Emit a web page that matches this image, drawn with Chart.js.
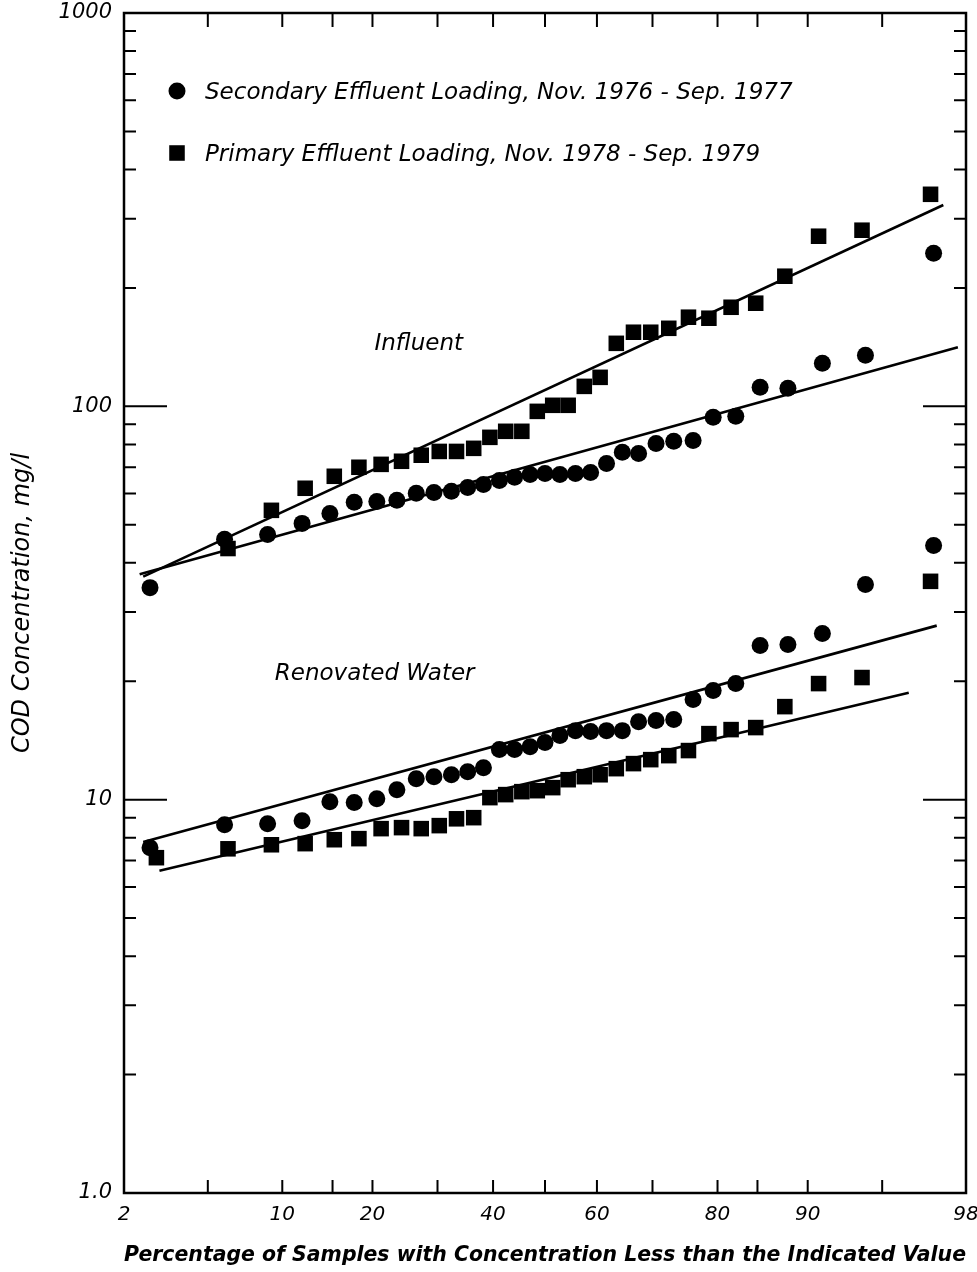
<!DOCTYPE html>
<html>
<head>
<meta charset="utf-8">
<script src="https://cdn.jsdelivr.net/npm/chart.js@4.4.1/dist/chart.umd.min.js"></script>
<style>
  html, body { margin: 0; padding: 0; background: #fff; }
  canvas { display: block; }
</style>
</head>
<body>
<canvas id="cod-chart" width="977" height="1272"></canvas>
<script>
// probability axis: percent of samples below the value
const xTicks = [2, 5, 10, 15, 20, 30, 40, 50, 60, 70, 80, 85, 90, 95, 98];
const xLabels = [2, 10, 20, 40, 60, 80, 90, 98];
const yTicks = [1, 2, 3, 4, 5, 6, 7, 8, 9, 10, 20, 30, 40, 50, 60, 70, 80, 90,
  100, 200, 300, 400, 500, 600, 700, 800, 900, 1000];
const yLabels = { 1: "1.0", 10: "10", 100: "100", 1000: "1000" };

// secondary effluent loading, Nov. 1976 - Sep. 1977 (circles)
const secondaryPct = [2.7, 5.9, 8.8, 11.8, 14.7, 17.6, 20.6, 23.5, 26.5, 29.4, 32.4,
  35.3, 38.2, 41.2, 44.1, 47.1, 50.0, 52.9, 55.9, 58.8, 61.8, 64.7, 67.6, 70.6,
  73.5, 76.5, 79.4, 82.4, 85.3, 88.2, 91.2, 94.1, 97.1];
const secondaryInfluent = [34.6, 45.9, 47.2, 50.4, 53.4, 57.0, 57.3, 57.7, 60.1, 60.4,
  60.8, 62.2, 63.3, 64.8, 66.0, 67.1, 67.5, 67.1, 67.5, 67.9, 71.6, 76.4, 75.9, 80.5,
  81.5, 81.9, 93.8, 94.3, 111.8, 111.1, 128.7, 134.9, 245];
const secondaryRenovated = [7.55, 8.64, 8.69, 8.84, 9.88, 9.83, 10.06, 10.6, 11.31,
  11.44, 11.57, 11.78, 12.06, 13.41, 13.41, 13.64, 13.97, 14.55, 14.98, 14.9, 14.98,
  14.98, 15.79, 15.89, 15.98, 17.97, 18.94, 19.73, 24.65, 24.8, 26.45, 35.24, 44.3];

// primary effluent loading, Nov. 1978 - Sep. 1979 (squares)
const primaryPct = [2.9, 6.1, 9.1, 12.1, 15.2, 18.2, 21.2, 24.2, 27.3, 30.3, 33.3,
  36.4, 39.4, 42.4, 45.5, 48.5, 51.5, 54.5, 57.6, 60.6, 63.6, 66.7, 69.7, 72.7, 75.8,
  78.8, 81.8, 84.8, 87.9, 90.9, 93.9, 97.0];
const primaryInfluent = [null, 43.5, 54.4, 61.9, 66.4, 70.0, 71.2, 72.5, 75.1, 76.8,
  76.8, 78.2, 83.4, 86.4, 86.4, 97.1, 100.6, 100.6, 112.4, 118.5, 144.6, 154.3, 154.3,
  157.9, 168.5, 167.5, 178.6, 182.9, 214.2, 270.7, 280.4, 346];
const primaryRenovated = [7.12, 7.5, 7.68, 7.73, 7.91, 7.96, 8.44, 8.49, 8.44, 8.59,
  8.94, 9.0, 10.12, 10.3, 10.48, 10.54, 10.73, 11.24, 11.44, 11.57, 11.99, 12.35,
  12.64, 12.94, 13.33, 14.72, 15.07, 15.25, 17.24, 19.73, 20.44, 35.9];

// fitted lines, end points [pct, mg/l]
const fitPrimaryInfluent = [[2.5, 36.9], [97.4, 325]];
const fitSecondaryInfluent = [[2.4, 37.4], [97.8, 141.3]];
const fitSecondaryRenovated = [[2.5, 7.8], [97.2, 27.7]];
const fitPrimaryRenovated = [[3.0, 6.6], [96.2, 18.7]];

const notes = [
  { text: "Influent", pct: 26.9, value: 144 },
  { text: "Renovated Water", pct: 20.3, value: 20.9 },
];

// inverse normal cdf (Acklam)
function probit(p) {
  const a = [-39.69683028665376, 220.9460984245205, -275.9285104469687, 138.357751867269, -30.66479806614716, 2.506628277459239];
  const b = [-54.47609879822406, 161.5858368580409, -155.6989798598866, 66.80131188771972, -13.28068155288572];
  const c = [-0.007784894002430293, -0.3223964580411365, -2.400758277161838, -2.549671794888800, 4.374664141464968, 2.938163982698783];
  const d = [0.007784695709041462, 0.3224671290700398, 2.445134137142996, 3.754408661907416];
  const pl = 0.02425;
  let q, r;
  if (p < pl) {
    q = Math.sqrt(-2 * Math.log(p));
    return (((((c[0] * q + c[1]) * q + c[2]) * q + c[3]) * q + c[4]) * q + c[5]) /
      ((((d[0] * q + d[1]) * q + d[2]) * q + d[3]) * q + 1);
  }
  if (p > 1 - pl) {
    q = Math.sqrt(-2 * Math.log(1 - p));
    return -(((((c[0] * q + c[1]) * q + c[2]) * q + c[3]) * q + c[4]) * q + c[5]) /
      ((((d[0] * q + d[1]) * q + d[2]) * q + d[3]) * q + 1);
  }
  q = p - 0.5;
  r = q * q;
  return (((((a[0] * r + a[1]) * r + a[2]) * r + a[3]) * r + a[4]) * r + a[5]) * q /
    (((((b[0] * r + b[1]) * r + b[2]) * r + b[3]) * r + b[4]) * r + 1);
}
const px = (pct) => probit(pct / 100);

function points(pcts, values) {
  return pcts.map((p, i) => ({ x: px(p), y: values[i] })).filter((d) => d.y != null);
}
function fit(ends) {
  return ends.map(([p, v]) => ({ x: px(p), y: v }));
}

const FONT = "'DejaVu Sans', sans-serif";
Chart.defaults.font.family = FONT;
Chart.defaults.color = "#000";

function scatterSet(label, data, style, radius) {
  return {
    label: label, data: data, pointStyle: style, pointRadius: radius,
    backgroundColor: "#000", borderWidth: 0, showLine: false,
  };
}
function lineSet(data) {
  return {
    data: data, showLine: true, pointRadius: 0, borderColor: "#000",
    borderWidth: 2.6, fill: false,
  };
}

// frame with inward tick marks on all four sides
const frame = {
  id: "frame",
  afterDatasetsDraw(chart) {
    const { ctx, chartArea: a, scales: { x, y } } = chart;
    ctx.save();
    ctx.strokeStyle = "#000";
    ctx.lineWidth = 2.5;
    ctx.strokeRect(a.left, a.top, a.right - a.left, a.bottom - a.top);
    ctx.lineWidth = 2;
    ctx.beginPath();
    x.ticks.forEach((t) => {
      const p = x.getPixelForValue(t.value);
      if (p < a.left + 2 || p > a.right - 2) return;
      ctx.moveTo(p, a.bottom);
      ctx.lineTo(p, a.bottom - 13);
      ctx.moveTo(p, a.top);
      ctx.lineTo(p, a.top + 14);
    });
    y.ticks.forEach((t) => {
      const p = y.getPixelForValue(t.value);
      if (p < a.top + 2 || p > a.bottom - 2) return;
      const len = (t.value === 10 || t.value === 100) ? 43 : 12;
      ctx.moveTo(a.left, p);
      ctx.lineTo(a.left + len, p);
      ctx.moveTo(a.right, p);
      ctx.lineTo(a.right - len, p);
    });
    ctx.stroke();
    ctx.restore();
  },
};

// legend block inside the plot and the two curve labels
const labels = {
  id: "labels",
  afterDraw(chart) {
    const { ctx, chartArea: a, scales: { x, y } } = chart;
    ctx.save();
    ctx.fillStyle = "#000";
    ctx.textBaseline = "middle";
    ctx.textAlign = "left";
    ctx.font = "italic 23px " + FONT;
    chart.data.datasets.filter((d) => d.legend).forEach((d, i) => {
      const cy = a.top + 78 + i * 62;
      Chart.helpers.drawPoint(ctx, { pointStyle: d.pointStyle, radius: d.pointRadius, rotation: 0, borderWidth: 0 }, a.left + 53, cy);
      ctx.fillText(d.label, a.left + 81, cy + 2);
    });
    ctx.textAlign = "center";
    notes.forEach((n) => {
      ctx.fillText(n.text, x.getPixelForValue(px(n.pct)), y.getPixelForValue(n.value));
    });
    ctx.restore();
  },
};

const secCircles = scatterSet("Secondary Effluent Loading, Nov. 1976 - Sep. 1977",
  points(secondaryPct, secondaryInfluent), "circle", 8.5);
secCircles.legend = true;
const priSquares = scatterSet("Primary Effluent Loading, Nov. 1978 - Sep. 1979",
  points(primaryPct, primaryInfluent), "rect", 11);
priSquares.legend = true;

new Chart(document.getElementById("cod-chart"), {
  type: "scatter",
  data: {
    datasets: [
      secCircles,
      priSquares,
      scatterSet("Secondary, renovated", points(secondaryPct, secondaryRenovated), "circle", 8.5),
      scatterSet("Primary, renovated", points(primaryPct, primaryRenovated), "rect", 11),
      lineSet(fit(fitPrimaryInfluent)),
      lineSet(fit(fitSecondaryInfluent)),
      lineSet(fit(fitSecondaryRenovated)),
      lineSet(fit(fitPrimaryRenovated)),
    ],
  },
  options: {
    responsive: false,
    animation: false,
    layout: { padding: { top: 13, right: 10, left: 0, bottom: 0 } },
    plugins: { legend: { display: false }, tooltip: { enabled: false } },
    scales: {
      x: {
        type: "linear",
        min: px(2),
        max: px(98),
        grid: { display: false, drawTicks: false },
        border: { display: false },
        afterBuildTicks: (s) => { s.ticks = xTicks.map((p) => ({ value: px(p) })); },
        afterFit: (s) => { s.height = 79; s.paddingLeft = 0; s.paddingRight = 0; },
        ticks: {
          autoSkip: false,
          maxRotation: 0,
          padding: 10,
          font: { size: 20, style: "italic" },
          callback: (v, i) => (xLabels.includes(xTicks[i]) ? String(xTicks[i]) : ""),
        },
        title: {
          display: true,
          text: "Percentage of Samples with Concentration Less than the Indicated Value",
          font: { size: 21, style: "italic", weight: "bold" },
          padding: { top: 0, bottom: 4 },
        },
      },
      y: {
        type: "logarithmic",
        min: 1,
        max: 1000,
        grid: { display: false, drawTicks: false },
        border: { display: false },
        afterBuildTicks: (s) => { s.ticks = yTicks.map((v) => ({ value: v })); },
        afterFit: (s) => { s.width = 124; s.paddingTop = 0; s.paddingBottom = 0; },
        ticks: {
          autoSkip: false,
          padding: 12,
          font: { size: 21, style: "italic" },
          callback: (v) => yLabels[v] || "",
        },
        title: {
          display: true,
          text: "COD Concentration, mg/l",
          font: { size: 24, style: "italic" },
          padding: { top: 8, bottom: 0 },
        },
      },
    },
  },
  plugins: [frame, labels],
});
</script>
</body>
</html>
